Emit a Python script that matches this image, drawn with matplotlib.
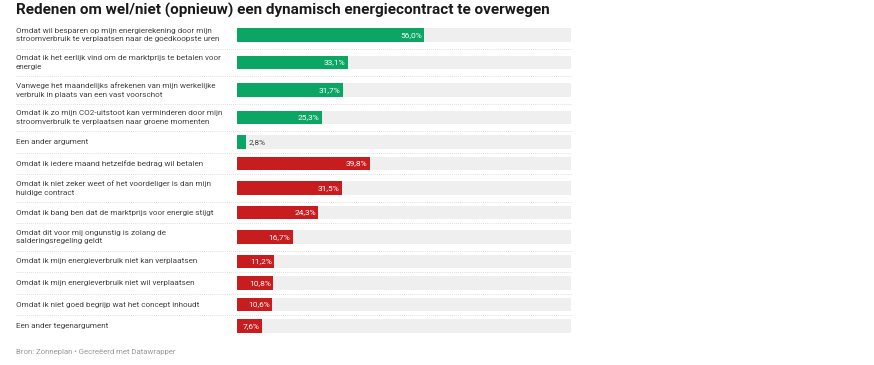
import matplotlib
matplotlib.use("Agg")
import matplotlib.pyplot as plt

# Data
labels = [
    "Omdat wil besparen op mijn energierekening door mijn\nstroomverbruik te verplaatsen naar de goedkoopste uren",
    "Omdat ik het eerlijk vind om de marktprijs te betalen voor\nenergie",
    "Vanwege het maandelijks afrekenen van mijn werkelijke\nverbruik in plaats van een vast voorschot",
    "Omdat ik zo mijn CO2-uitstoot kan verminderen door mijn\nstroomverbruik te verplaatsen naar groene momenten",
    "Een ander argument",
    "Omdat ik iedere maand hetzelfde bedrag wil betalen",
    "Omdat ik niet zeker weet of het voordeliger is dan mijn\nhuidige contract",
    "Omdat ik bang ben dat de marktprijs voor energie stijgt",
    "Omdat dit voor mij ongunstig is zolang de\nsalderingsregeling geldt",
    "Omdat ik mijn energieverbruik niet kan verplaatsen",
    "Omdat ik mijn energieverbruik niet wil verplaatsen",
    "Omdat ik niet goed begrijp wat het concept inhoudt",
    "Een ander tegenargument",
]
values = [56.0, 33.1, 31.7, 25.3, 2.8, 39.8, 31.5, 24.3, 16.7, 11.2, 10.8, 10.6, 7.6]
is_pro = [True] * 5 + [False] * 8

green = "#0ba663"
red = "#c81d1f"
bg = "#efefef"

plt.rcParams["font.family"] = ["Roboto", "DejaVu Sans"]

W, H = 874, 365
fig = plt.figure(figsize=(W / 100, H / 100), dpi=100)

# row layout in pixels: two-line rows are taller than one-line rows
top = 21.25
heights = [27.5 if "\n" in lab else 21.5 for lab in labels]
centers = []
bounds = []
y = top
for h in heights:
    centers.append(y + h / 2)
    y += h
    bounds.append(y)
bottom = y

ax = fig.add_axes([237 / W, (H - bottom) / H, (571 - 237) / W, (bottom - top) / H])
ax.set_xlim(0, 100)
ax.set_ylim(bottom, top)
ax.axis("off")

n = len(values)
bar_h = 13.5
ax.barh(centers, [100] * n, height=bar_h, color=bg, zorder=1)
colors = [green if p else red for p in is_pro]
ax.barh(centers, values, height=bar_h, color=colors, zorder=2)

for yc, v in zip(centers, values):
    txt = f"{v:.1f}%".replace(".", ",")
    if v > 5:
        ax.text(v - 0.7, yc, txt, ha="right", va="center", color="white",
                fontsize=6.0, zorder=3)
    else:
        ax.text(v + 0.8, yc, txt, ha="left", va="center", color="#444444",
                fontsize=6.0, zorder=3)

for i, lab in enumerate(labels):
    fig.text(16 / W, 1 - centers[i] / H, lab, ha="left", va="center", fontsize=5.85,
             color="#444444", linespacing=1.45)
    if i < n - 1:
        ysep = 1 - bounds[i] / H
        fig.add_artist(plt.Line2D([16 / W, 571 / W], [ysep, ysep],
                                  transform=fig.transFigure, color="#d4d4d4",
                                  linewidth=0.6, linestyle=(0, (1, 1.5))))

fig.text(16 / W, 1 - 10 / H, "Redenen om wel/niet (opnieuw) een dynamisch energiecontract te overwegen",
         ha="left", va="center", fontsize=11, fontweight="bold", color="#1a1a1a")
fig.text(16 / W, 1 - 352 / H, "Bron: Zonneplan \u2022 Gecreëerd met Datawrapper",
         ha="left", va="center", fontsize=5.6, color="#999999")

fig.savefig("out.png", dpi=100, facecolor="white")
